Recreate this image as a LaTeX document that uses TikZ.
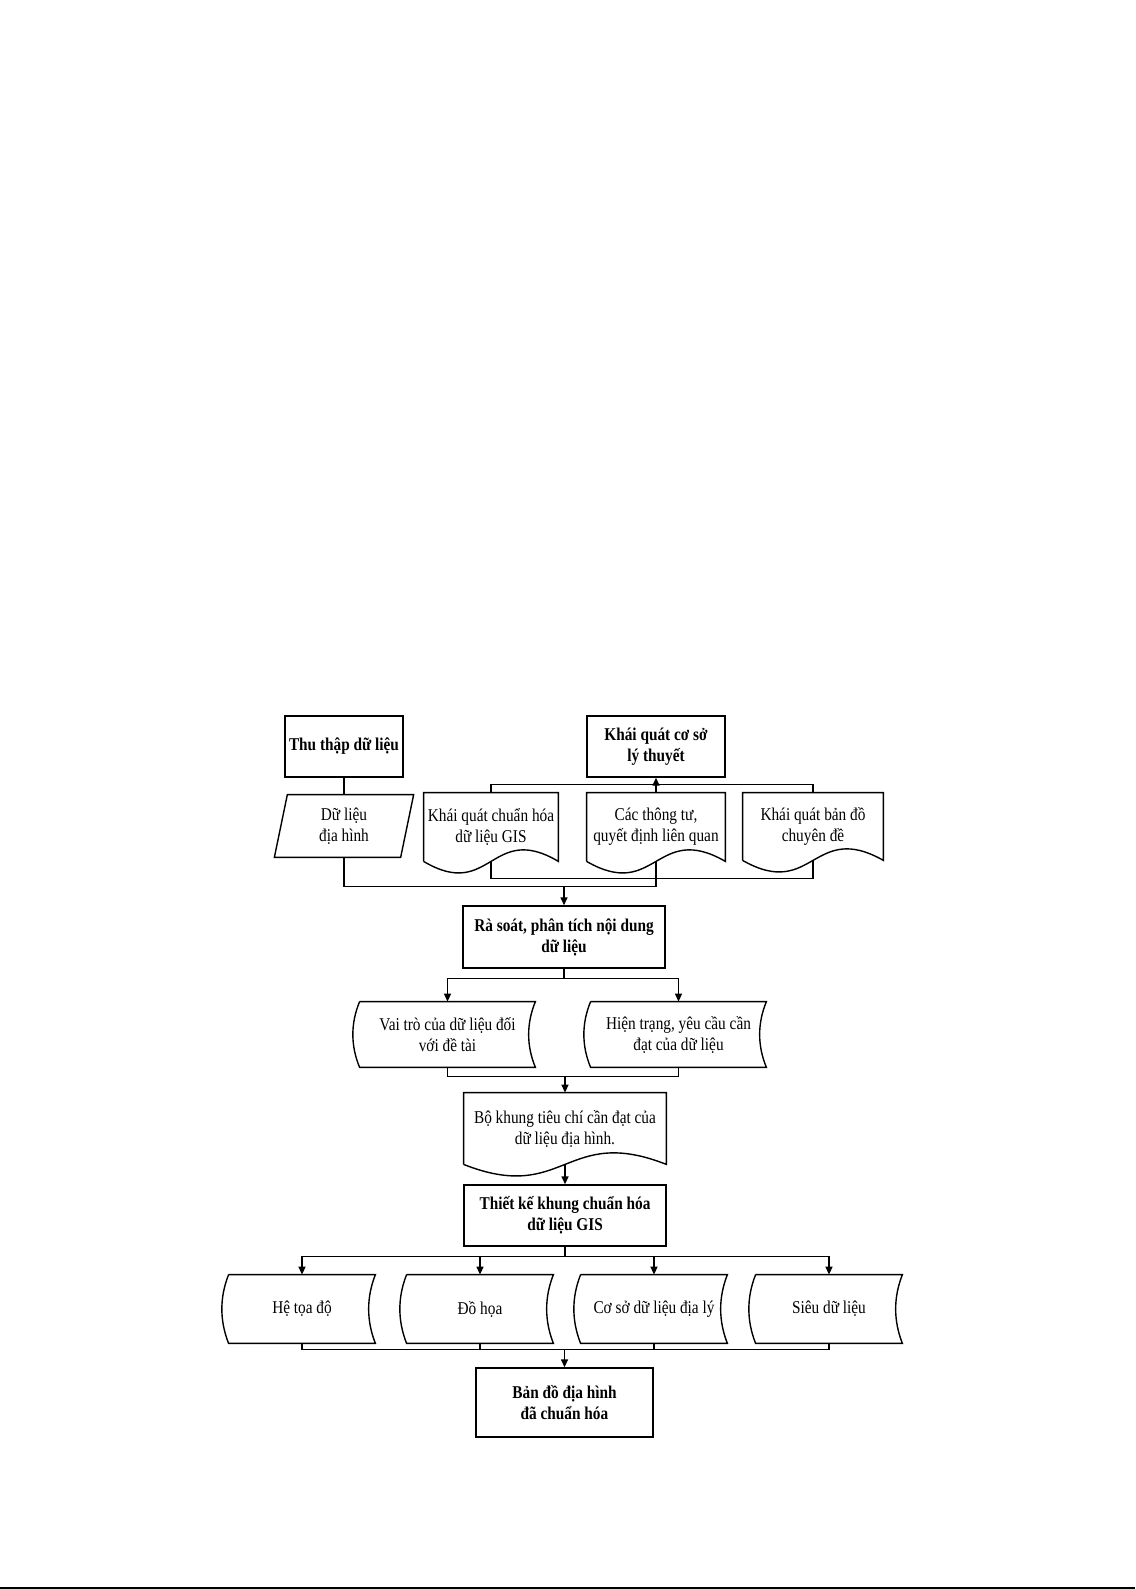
\documentclass[tikz,border=0pt]{standalone}
\usepackage{fontspec}
\setmainfont{Liberation Serif}[FakeStretch=0.85]
\usetikzlibrary{calc,arrows.meta}
\begin{document}
\begin{tikzpicture}[x=0.5pt,y=-0.5pt,
 every node/.style={font=\fontsize{9pt}{10.5pt}\selectfont, align=center, inner sep=0pt},
 ln/.style={line width=0.7pt, draw=black},
 arr/.style={ln, -{Triangle[length=4pt,width=3.5pt]}},
 procbox/.style={draw, line width=0.7pt, font=\fontsize{9pt}{10.5pt}\selectfont\bfseries},
 docbox/.style={append after command={\pgfextra{\draw[ln] (\tikzlastnode.south west) -- (\tikzlastnode.north west) -- (\tikzlastnode.north east) -- (\tikzlastnode.south east) .. controls ($(\tikzlastnode.south)+(0pt,20pt)$) and ($(\tikzlastnode.south)+(0pt,-20pt)$) .. (\tikzlastnode.south west);}}},
 storebox/.style={append after command={\pgfextra{\draw[ln] (\tikzlastnode.north west) -- (\tikzlastnode.north east) .. controls ($(\tikzlastnode.north east)!0.33!(\tikzlastnode.south east)+(-4.5pt,0pt)$) and ($(\tikzlastnode.north east)!0.67!(\tikzlastnode.south east)+(-4.5pt,0pt)$) .. (\tikzlastnode.south east) -- (\tikzlastnode.south west) .. controls ($(\tikzlastnode.south west)!0.33!(\tikzlastnode.north west)+(-4.5pt,0pt)$) and ($(\tikzlastnode.south west)!0.67!(\tikzlastnode.north west)+(-4.5pt,0pt)$) .. (\tikzlastnode.north west);}}},
 parabox/.style={append after command={\pgfextra{\draw[ln] ($(\tikzlastnode.north west)+(3.25pt,0pt)$) -- ($(\tikzlastnode.north east)+(3.25pt,0pt)$) -- ($(\tikzlastnode.south east)+(-3.25pt,0pt)$) -- ($(\tikzlastnode.south west)+(-3.25pt,0pt)$) -- cycle;}}}
]
\useasboundingbox (0,0) rectangle (1135,1589);

% top row
\node[procbox, minimum width=59pt, minimum height=30.5pt] (thu) at (344,746.5) {Thu thập dữ liệu};
\node[procbox, minimum width=69pt, minimum height=30.5pt] (kq) at (656,746.5) {Khái quát cơ sở\\lý thuyết};
\node[parabox, minimum width=62.75pt, minimum height=31pt] (dlh) at (344,826) {Dữ liệu\\địa hình};
\node[docbox, minimum width=67pt, minimum height=34pt] (d1) at (491,827) {Khái quát chuẩn hóa\\dữ liệu GIS};
\node[docbox, minimum width=69pt, minimum height=34pt] (d2) at (656,827) {Các thông tư,\\quyết định liên quan};
\node[docbox, minimum width=70pt, minimum height=33.5pt] (d3) at (813,826.5) {Khái quát bản đồ\\chuyên đề};

\node[procbox, minimum width=101pt, minimum height=31pt] (ras) at (564,937) {Rà soát, phân tích nội dung\\dữ liệu};

\node[storebox, minimum width=87.5pt, minimum height=32.5pt] (vai) at (447.5,1034.5) {Vai trò của dữ liệu đối\\với đề tài};
\node[storebox, minimum width=87.5pt, minimum height=32.5pt] (ht) at (678.5,1034.5) {Hiện trạng, yêu cầu cần\\đạt của dữ liệu};

\node[docbox, minimum width=101pt, minimum height=35.5pt] (bk) at (565,1128.5) {Bộ khung tiêu chí cần đạt của\\dữ liệu địa hình.};
\node[procbox, minimum width=101pt, minimum height=30.5pt] (tk) at (565,1215.5) {Thiết kế khung chuẩn hóa\\dữ liệu GIS};

\node[storebox, minimum width=73pt, minimum height=34pt] (s1) at (302,1309) {Hệ tọa độ};
\node[storebox, minimum width=73pt, minimum height=34pt] (s2) at (480,1309) {Đồ họa};
\node[storebox, minimum width=73pt, minimum height=34pt] (s3) at (654,1309) {Cơ sở dữ liệu địa lý};
\node[storebox, minimum width=73pt, minimum height=34pt] (s4) at (829,1309) {Siêu dữ liệu};

\node[procbox, minimum width=88.5pt, minimum height=34.5pt] (bd) at (564.5,1402.5) {Bản đồ địa hình\\đã chuẩn hóa};

% junction coordinates
\coordinate (t1) at ($(kq.south)+(0,7)$);
\coordinate (b1) at ($(d2.south)+(0,17)$);
\coordinate (j1) at ($(ras.north)+(0,-19)$);
\coordinate (r1) at ($(ras.south)+(0,10)$);
\coordinate (v1) at ($(bk.north)+(0,-16)$);
\coordinate (k1) at ($(tk.south)+(0,10)$);
\coordinate (m1) at ($(bd.north)+(0,-18)$);

% connectors
\draw[ln] (d1.north) |- (t1) -| (d3.north);
\draw[ln] (d2.north) -- (t1);
\draw[arr] (t1) -- (kq.south);
\draw[ln] (thu.south) -- (dlh.north);
\draw[ln] (d1.south) |- (b1) -| (d3.south);
\draw[ln] (dlh.south) |- (j1) -| (d2.south);
\draw[arr] (j1) -- (ras.north);

\draw[ln] (ras.south) -- (r1);
\draw[arr] (r1) -| (vai.north);
\draw[arr] (r1) -| (ht.north);

\draw[ln] (vai.south) |- (v1) -| (ht.south);
\draw[arr] (v1) -- (bk.north);
\draw[arr] (bk.south) -- (tk.north);

\draw[ln] (tk.south) -- (k1);
\draw[arr] (k1) -| (s1.north);
\draw[arr] (k1) -| (s2.north);
\draw[arr] (k1) -| (s3.north);
\draw[arr] (k1) -| (s4.north);

\draw[ln] (s1.south) |- (m1) -| (s4.south);
\draw[ln] (s2.south) -- (s2.south |- m1);
\draw[ln] (s3.south) -- (s3.south |- m1);
\draw[arr] (m1) -- (bd.north);

% bottom rule
\fill[black] (0,1586.5) rectangle (1135,1589);
\end{tikzpicture}
\end{document}
